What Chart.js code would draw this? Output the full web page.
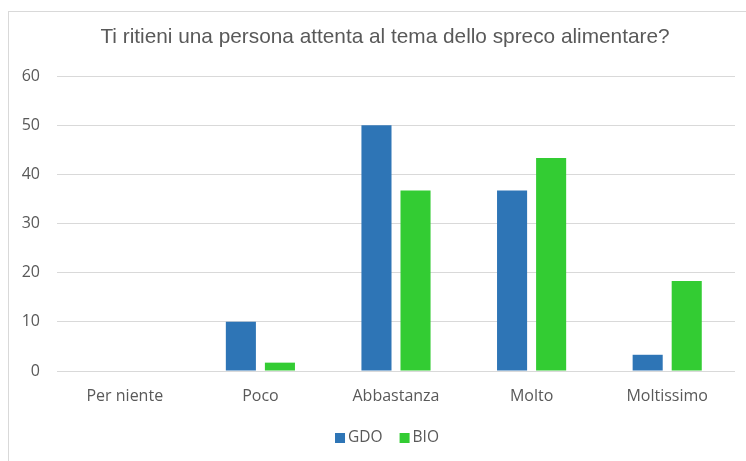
<!DOCTYPE html>
<html>
<head>
<meta charset="utf-8">
<script src="https://cdn.jsdelivr.net/npm/chart.js@4/dist/chart.umd.min.js"></script>
<style>
  html, body { margin: 0; padding: 0; background: #ffffff; }
  #wrap { position: relative; width: 746px; height: 461px; overflow: hidden; }
  #frame { position: absolute; left: 8px; top: 11px; width: 760px; height: 470px; border: 1px solid #d9d9d9; box-sizing: border-box; }
  #c { position: absolute; left: 0; top: 0; }
</style>
</head>
<body>
<div id="wrap">
  <div id="frame"></div>
  <canvas id="c" width="746" height="461"></canvas>
</div>
<script>
const categories = ['Per niente', 'Poco', 'Abbastanza', 'Molto', 'Moltissimo'];
const gdoValues = [0, 10, 50, 36.7, 3.3];
const bioValues = [0, 1.7, 36.7, 43.3, 18.3];
const yTicks = [0, 10, 20, 30, 40, 50, 60];

const titleText = 'Ti ritieni una persona attenta al tema dello spreco alimentare?';
const textColor = '#595959';
const gridColor = '#d9d9d9';
const tickFont = { family: '"Open Sans", sans-serif', size: 16 };

// Title and legend are centred on the outer frame rather than the plot area.
const frameCenterX = 385;

const headerAndLegend = {
  id: 'headerAndLegend',
  afterDraw(chart) {
    const ctx = chart.ctx;
    ctx.save();
    ctx.fillStyle = textColor;
    ctx.textBaseline = 'middle';
    ctx.textAlign = 'center';
    ctx.font = '20.8px "Liberation Sans", Arial, sans-serif';
    ctx.fillText(titleText, frameCenterX, 37);

    ctx.font = '15.5px "Open Sans", sans-serif';
    ctx.textAlign = 'left';
    const box = 10, gapText = 3, gapItem = 17;
    const items = chart.data.datasets.map(ds => ({
      label: ds.label, color: ds.backgroundColor, w: ctx.measureText(ds.label).width
    }));
    const total = items.reduce((s, it) => s + box + gapText + it.w, 0) + gapItem * (items.length - 1);
    let x = frameCenterX + 2 - total / 2;
    const y = 438;
    items.forEach(it => {
      ctx.fillStyle = it.color;
      ctx.fillRect(x, y - box / 2, box, box);
      ctx.fillStyle = textColor;
      ctx.fillText(it.label, x + box + gapText, y);
      x += box + gapText + it.w + gapItem;
    });
    ctx.restore();
  }
};

new Chart(document.getElementById('c'), {
  type: 'bar',
  data: {
    labels: categories,
    datasets: [
      { label: 'GDO', data: gdoValues, backgroundColor: '#2e75b6', categoryPercentage: 0.576, barPercentage: 0.77 },
      { label: 'BIO', data: bioValues, backgroundColor: '#33cc33', categoryPercentage: 0.576, barPercentage: 0.77 }
    ]
  },
  plugins: [headerAndLegend],
  options: {
    responsive: false,
    animation: false,
    layout: { padding: { left: 8, right: 11, top: 76, bottom: 40 } },
    plugins: {
      title: { display: false },
      legend: { display: false },
      tooltip: { enabled: false }
    },
    scales: {
      x: {
        afterFit: (scale) => { scale.height = 50; },
        grid: { display: false, drawTicks: false },
        border: { display: false },
        ticks: { color: textColor, font: tickFont, padding: 16 }
      },
      y: {
        min: 0,
        max: 60,
        afterBuildTicks: (scale) => { scale.ticks = yTicks.map(v => ({ value: v })); },
        afterFit: (scale) => { scale.width = 49; },
        grid: { color: gridColor, drawTicks: false },
        border: { display: false },
        ticks: { color: textColor, font: tickFont, padding: 17 }
      }
    }
  }
});
</script>
</body>
</html>
